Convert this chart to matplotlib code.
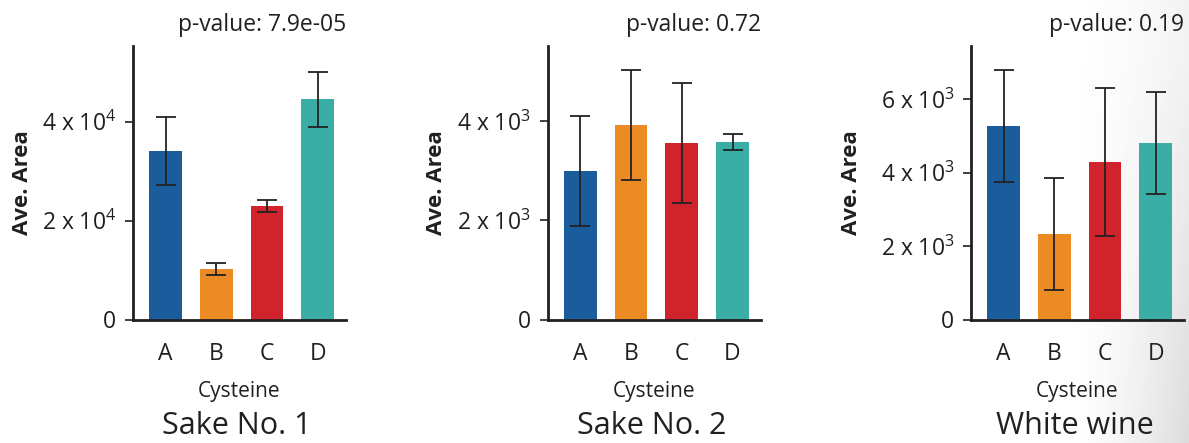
import numpy as np
import matplotlib
matplotlib.use('Agg')
import matplotlib.pyplot as plt

plt.rcParams['font.family'] = ['Open Sans', 'DejaVu Sans']
plt.rcParams['mathtext.fontset'] = 'custom'
plt.rcParams['mathtext.rm'] = 'Open Sans'
plt.rcParams['mathtext.it'] = 'Open Sans'
plt.rcParams['mathtext.bf'] = 'Open Sans:bold'

# ---------------- data ----------------
categories = ['A', 'B', 'C', 'D']
bar_colors = ['#1a5c9c', '#ec8a24', '#d1232b', '#3aada7']

panel_titles = ['Sake No. 1', 'Sake No. 2', 'White wine']
p_value_labels = ['p-value: 7.9e-05', 'p-value: 0.72', 'p-value: 0.19']

sake1_mean = [34000, 10200, 22900, 44500]
sake1_err = [6900, 1300, 1200, 5500]
sake2_mean = [2990, 3920, 3560, 3580]
sake2_err = [1100, 1100, 1210, 160]
wine_mean = [5270, 2330, 4290, 4810]
wine_err = [1520, 1520, 2020, 1400]

sake1_ticks = [0, 20000, 40000]
sake1_ticklabels = ['0', '2 x 10$^4$', '4 x 10$^4$']
sake2_ticks = [0, 2000, 4000]
sake2_ticklabels = ['0', '2 x 10$^3$', '4 x 10$^3$']
wine_ticks = [0, 2000, 4000, 6000]
wine_ticklabels = ['0', '2 x 10$^3$', '4 x 10$^3$', '6 x 10$^3$']

y_max = [55300, 5510, 7450]

means = [sake1_mean, sake2_mean, wine_mean]
errs = [sake1_err, sake2_err, wine_err]
ticks = [sake1_ticks, sake2_ticks, wine_ticks]
ticklabels = [sake1_ticklabels, sake2_ticklabels, wine_ticklabels]

# ---------------- figure ----------------
W, H = 1189, 443
fig = plt.figure(figsize=(W / 100, H / 100), dpi=100)
fig.patch.set_facecolor('white')

# page shadow on the right (scan artifact)
bg = fig.add_axes([0, 0, 1, 1], zorder=-10)
bg.set_axis_off()
xx = np.linspace(0, 1, W)
yy = np.linspace(0, 1, H)  # 0 top, 1 bottom
X, Y = np.meshgrid(xx, yy)
sx = np.clip((X * W - 1070) / (W - 1070), 0, 1) ** 1.5
sy = np.clip((Y * H - 60) / (H - 60), 0, 1) ** 0.9
shade = 0.25 * sx * (0.35 + 0.65 * sy)
img = np.zeros((H, W, 4))
img[..., :3] = 0.45
img[..., 3] = shade
bg.imshow(img, extent=[0, 1, 0, 1], aspect='auto', origin='upper')
bg.set_xlim(0, 1)
bg.set_ylim(0, 1)

axes_left_px = [133, 547.7, 971]
axes_w_px = 213
axes_top_px = 46
axes_bot_px = 319.5
ylabel_x_px = [22.7, 436.7, 851.7]

x = np.arange(len(categories))
for i in range(3):
    ax = fig.add_axes([axes_left_px[i] / W, (H - axes_bot_px) / H,
                       axes_w_px / W, (axes_bot_px - axes_top_px) / H])
    ax.set_facecolor('none')
    ax.bar(x, means[i], width=0.645, color=bar_colors, zorder=2)
    ax.errorbar(x, means[i], yerr=errs[i], fmt='none', ecolor='#222222',
                elinewidth=1.3, capsize=7, capthick=1.3, zorder=3)
    ax.set_xlim(-0.645, 3.555)
    ax.set_ylim(0, y_max[i])
    ax.set_yticks(ticks[i])
    ax.set_yticklabels(ticklabels[i])
    ax.set_xticks(x)
    ax.set_xticklabels(categories)
    for s in ['top', 'right']:
        ax.spines[s].set_visible(False)
    for s in ['left', 'bottom']:
        ax.spines[s].set_linewidth(2.0)
        ax.spines[s].set_color('#231f20')
    ax.tick_params(axis='y', length=6, width=1.2, color='#231f20',
                   labelsize=16.5, labelcolor='#231f20', pad=6)
    ax.tick_params(axis='x', length=0, labelsize=16.5, labelcolor='#231f20',
                   pad=16)
    ax.set_xlabel('Cysteine', fontsize=15, color='#231f20', labelpad=11)
    fig.text(ylabel_x_px[i] / W, 1 - (axes_top_px + axes_bot_px) / 2 / H,
             'Ave. Area', rotation=90, fontsize=16, fontweight='bold',
             color='#231f20', ha='center', va='center')
    ax.text(1.0, 1 + 15 / (axes_bot_px - axes_top_px), p_value_labels[i],
            transform=ax.transAxes, ha='right', va='baseline',
            fontsize=16.5, color='#231f20')
    cx = (axes_left_px[i] + axes_w_px / 2 - 3) / W
    fig.text(cx, 9 / H, panel_titles[i], ha='center', va='baseline',
             fontsize=22, color='#231f20')

fig.savefig('out.png', dpi=100)
